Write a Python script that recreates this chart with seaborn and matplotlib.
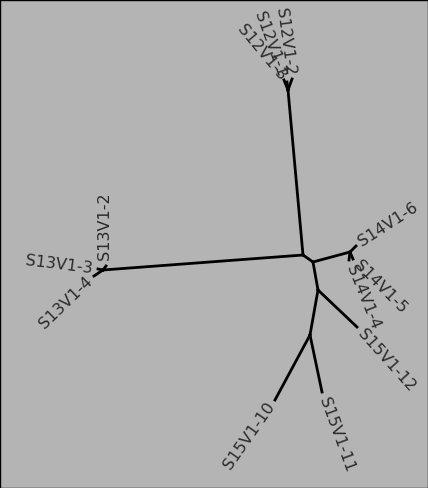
import pandas as pd
import matplotlib
matplotlib.use("Agg")
import matplotlib.pyplot as plt
import seaborn as sns

# node positions (tree layout, pixel space)
nodes = {
    "A": (303, 255), "B": (313, 262), "C": (318, 290), "D": (310, 335),
    "N12": (288, 90), "N13": (103, 270), "N14": (350, 252),
    "S12V1-1": (284, 80), "S12V1-2": (292, 79), "S12V1-3": (287, 82),
    "S13V1-2": (106, 266), "S13V1-3": (98, 269), "S13V1-4": (94, 276),
    "S14V1-6": (356, 246), "S14V1-5": (353, 259), "S14V1-4": (349, 260),
    "S15V1-12": (357, 327), "S15V1-10": (275, 400), "S15V1-11": (322, 392),
}
edges = [("A", "N12"), ("A", "N13"), ("A", "B"), ("B", "N14"), ("B", "C"),
         ("C", "S15V1-12"), ("C", "D"), ("D", "S15V1-10"), ("D", "S15V1-11"),
         ("N12", "S12V1-1"), ("N12", "S12V1-2"), ("N12", "S12V1-3"),
         ("N13", "S13V1-2"), ("N13", "S13V1-3"), ("N13", "S13V1-4"),
         ("N14", "S14V1-6"), ("N14", "S14V1-5"), ("N14", "S14V1-4")]

# label placement: rotation, alignment
labels = {
    "S12V1-1": (-70, "right"), "S12V1-2": (-82, "right"), "S12V1-3": (-50, "right"),
    "S13V1-2": (90, "left"), "S13V1-3": (-7, "right"), "S13V1-4": (44, "right"),
    "S14V1-6": (33, "left"), "S14V1-5": (-45, "left"), "S14V1-4": (-68, "left"),
    "S15V1-12": (-48, "left"), "S15V1-10": (55, "right"), "S15V1-11": (-70, "left"),
}

rows = []
for i, (a, b) in enumerate(edges):
    for n in (a, b):
        rows.append({"edge": i, "x": nodes[n][0], "y": nodes[n][1]})
df = pd.DataFrame(rows)

fig = plt.figure(figsize=(4.28, 4.88), dpi=100)
fig.patch.set_facecolor("#b4b4b4")
ax = fig.add_axes([0, 0, 1, 1])
ax.set_facecolor("#b4b4b4")
sns.lineplot(data=df, x="x", y="y", units="edge", estimator=None, sort=False,
             color="black", linewidth=2, ax=ax, legend=False)

for name, (rot, ha) in labels.items():
    x, y = nodes[name]
    txt = " " + name if ha == "left" else name + " "
    ax.text(x, y, txt, rotation=rot, rotation_mode="anchor", ha=ha, va="center",
            fontsize=11.5, color="#2a2a2a", fontfamily="DejaVu Sans")

ax.set_xlim(0, 428)
ax.set_ylim(488, 0)
ax.set_xticks([])
ax.set_yticks([])
ax.set_xlabel("")
ax.set_ylabel("")
for s in ax.spines.values():
    s.set_color("black")
    s.set_linewidth(1)
fig.savefig("out.png", dpi=100, facecolor=fig.get_facecolor())
